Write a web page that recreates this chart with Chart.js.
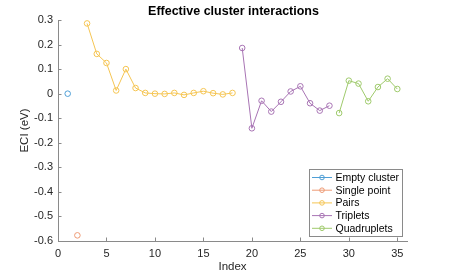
<!DOCTYPE html>
<html>
<head>
<meta charset="utf-8">
<script src="https://cdn.jsdelivr.net/npm/chart.js@4.4.1/dist/chart.umd.min.js"></script>
<style>
  html, body { margin: 0; padding: 0; background: #fff; }
  #wrap { width: 450px; height: 274px; }
</style>
</head>
<body>
<div id="wrap"><canvas id="eciChart" width="450" height="274"></canvas></div>
<script>
// --- DATA ---
const seriesNames = ['Empty cluster', 'Single point', 'Pairs', 'Triplets', 'Quadruplets'];

const emptyIdx = [1];
const emptyEci = [0];

const singleIdx = [2];
const singleEci = [-0.577];

const pairIdx = [3, 4, 5, 6, 7, 8, 9, 10, 11, 12, 13, 14, 15, 16, 17, 18];
const pairEci = [0.286, 0.162, 0.125, 0.013, 0.100, 0.023, 0.003, 0.0, -0.001, 0.003, -0.005, 0.003, 0.010, 0.002, -0.003, 0.003];

const tripletIdx = [19, 20, 21, 22, 23, 24, 25, 26, 27, 28];
const tripletEci = [0.186, -0.141, -0.029, -0.073, -0.033, 0.009, 0.030, -0.039, -0.069, -0.049];

const quadIdx = [29, 30, 31, 32, 33, 34, 35];
const quadEci = [-0.079, 0.053, 0.041, -0.031, 0.027, 0.061, 0.019];

const xTickValues = [0, 5, 10, 15, 20, 25, 30, 35];
const yTickValues = [0.3, 0.2, 0.1, 0, -0.1, -0.2, -0.3, -0.4, -0.5, -0.6];

const seriesColors = ['#4f9fd6', '#ee9a74', '#f5c553', '#a874b4', '#9fca6c'];

const FONT = "'Liberation Sans', Arial, Helvetica, sans-serif";

const toPoints = (xs, ys) => xs.map((x, i) => ({ x: x, y: ys[i] }));
const allSeries = [
    toPoints(emptyIdx, emptyEci),
    toPoints(singleIdx, singleEci),
    toPoints(pairIdx, pairEci),
    toPoints(tripletIdx, tripletEci),
    toPoints(quadIdx, quadEci)
];

const datasets = allSeries.map((pts, i) => ({
    label: seriesNames[i],
    data: pts,
    borderColor: seriesColors[i],
    backgroundColor: 'rgba(0,0,0,0)',
    borderWidth: 1,
    pointRadius: 2.8,
    pointBorderWidth: 1,
    pointBackgroundColor: 'rgba(0,0,0,0)',
    pointBorderColor: seriesColors[i],
    tension: 0
}));

// inward tick marks, MATLAB style
const inwardTicks = {
    id: 'inwardTicks',
    afterDatasetsDraw(chart) {
        const { ctx, chartArea, scales } = chart;
        ctx.save();
        ctx.strokeStyle = '#8a8a8a';
        ctx.lineWidth = 1;
        ctx.beginPath();
        xTickValues.forEach(v => {
            const px = Math.round(scales.x.getPixelForValue(v)) + 0.5;
            ctx.moveTo(px, chartArea.bottom);
            ctx.lineTo(px, chartArea.bottom - 3.5);
        });
        yTickValues.forEach(v => {
            const py = Math.round(scales.y.getPixelForValue(v)) + 0.5;
            ctx.moveTo(chartArea.left, py);
            ctx.lineTo(chartArea.left + 3.5, py);
        });
        ctx.stroke();
        ctx.restore();
    }
};

// titles + boxed legend drawn by hand
const labelsAndLegend = {
    id: 'labelsAndLegend',
    afterDraw(chart) {
        const { ctx, chartArea } = chart;
        const midX = (chartArea.left + chartArea.right) / 2;
        ctx.save();
        ctx.textAlign = 'center';
        ctx.textBaseline = 'middle';

        ctx.fillStyle = '#000';
        ctx.font = 'bold 12.5px ' + FONT;
        ctx.fillText('Effective cluster interactions', midX + 1, 12);

        ctx.fillStyle = '#262626';
        ctx.font = '11.5px ' + FONT;
        ctx.fillText('Index', midX, 267);

        ctx.save();
        ctx.translate(25, (chartArea.top + chartArea.bottom) / 2);
        ctx.rotate(-Math.PI / 2);
        ctx.fillText('ECI (eV)', 0, 0);
        ctx.restore();

        // legend box
        const bx = 309.5, by = 169.5, bw = 93, bh = 67;
        ctx.fillStyle = '#fff';
        ctx.fillRect(bx, by, bw, bh);
        ctx.strokeStyle = '#8a8a8a';
        ctx.lineWidth = 1;
        ctx.strokeRect(bx, by, bw, bh);

        ctx.textAlign = 'left';
        ctx.font = '10.5px ' + FONT;
        chart.data.datasets.forEach((ds, i) => {
            const y = 177.5 + i * 12.7;
            ctx.strokeStyle = ds.borderColor;
            ctx.beginPath();
            ctx.moveTo(312, y);
            ctx.lineTo(332, y);
            ctx.stroke();
            ctx.beginPath();
            ctx.arc(322, y, 2.3, 0, Math.PI * 2);
            ctx.stroke();
            ctx.fillStyle = '#000';
            ctx.fillText(ds.label, 335.5, y + 0.5);
        });
        ctx.restore();
    }
};

new Chart(document.getElementById('eciChart'), {
    type: 'line',
    data: { datasets: datasets },
    options: {
        responsive: false,
        animation: false,
        devicePixelRatio: 1,
        layout: { padding: { top: 20, right: 43, left: 0, bottom: 0 } },
        plugins: { legend: { display: false }, tooltip: { enabled: false } },
        scales: {
            x: {
                type: 'linear',
                min: 0,
                max: 36,
                afterBuildTicks: s => { s.ticks = xTickValues.map(v => ({ value: v })); },
                afterFit: s => { s.height = 33; },
                grid: { display: false, drawTicks: false },
                border: { display: true, color: '#8a8a8a', width: 1 },
                ticks: { color: '#262626', font: { family: FONT, size: 11 }, padding: 6, maxRotation: 0 }
            },
            y: {
                type: 'linear',
                min: -0.6,
                max: 0.3,
                afterBuildTicks: s => { s.ticks = yTickValues.map(v => ({ value: v })); },
                afterFit: s => { s.width = 58; },
                grid: { display: false, drawTicks: false },
                border: { display: true, color: '#8a8a8a', width: 1 },
                ticks: {
                    color: '#262626',
                    font: { family: FONT, size: 11 },
                    padding: 5,
                    callback: v => (Math.abs(v) < 1e-9 ? '0' : String(+v.toFixed(1)))
                }
            }
        }
    },
    plugins: [inwardTicks, labelsAndLegend]
});
</script>
</body>
</html>
